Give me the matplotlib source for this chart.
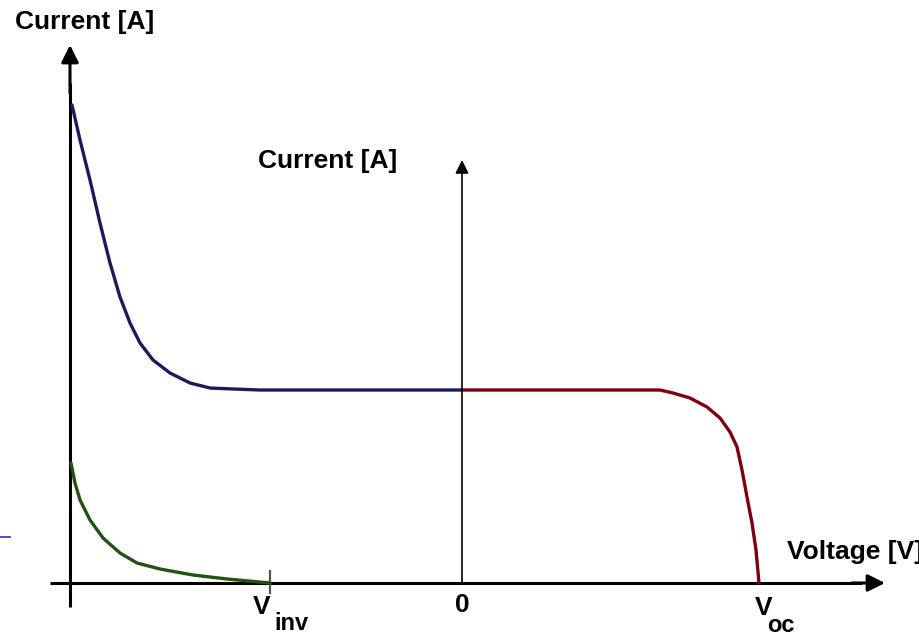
import numpy as np
import matplotlib.pyplot as plt

# curve points (voltage, current) in arbitrary units
dark_v = [-3.90, -3.82, -3.72, -3.62, -3.52, -3.42, -3.32, -3.22, -3.09, -2.92, -2.72, -2.52, -2.29, -2.02, -1.0, 0.0]
dark_i = [4.78, 4.43, 4.03, 3.60, 3.20, 2.86, 2.60, 2.40, 2.23, 2.10, 2.00, 1.95, 1.94, 1.93, 1.93, 1.93]

light_v = [0.0, 1.0, 1.98, 2.11, 2.28, 2.45, 2.58, 2.68, 2.75, 2.80, 2.85, 2.90, 2.94, 2.97]
light_i = [1.93, 1.93, 1.93, 1.90, 1.85, 1.76, 1.65, 1.51, 1.36, 1.13, 0.86, 0.60, 0.33, 0.0]

inv_v = [-3.91, -3.87, -3.82, -3.72, -3.59, -3.42, -3.25, -3.02, -2.69, -2.35, -1.92]
inv_i = [1.20, 1.00, 0.83, 0.63, 0.45, 0.30, 0.20, 0.14, 0.08, 0.04, 0.0]

v_inv = -1.92
v_oc = 2.97

plt.rcParams['font.family'] = ['Liberation Sans', 'DejaVu Sans']

fig = plt.figure(figsize=(9.2, 6.32), dpi=100)
ax = fig.add_axes([0, 0, 1, 1])
ax.set_xlim(-4.62, 4.58)
ax.set_ylim(-0.49, 5.83)
ax.axis('off')

# outer axes
ax.plot([-3.92, -3.92], [-0.24, 5.0], color='black', lw=2.2, solid_capstyle='butt')
ax.annotate('', xy=(-3.92, 5.38), xytext=(-3.92, 4.9),
            arrowprops=dict(arrowstyle='-|>', lw=2.2, color='black', mutation_scale=26,
                            shrinkA=0, shrinkB=0))
ax.plot([-4.12, 4.0], [0, 0], color='black', lw=2.2, solid_capstyle='butt')
ax.annotate('', xy=(4.23, 0), xytext=(3.9, 0),
            arrowprops=dict(arrowstyle='-|>', lw=2.2, color='black', mutation_scale=26,
                            shrinkA=0, shrinkB=0))

# inner current axis at V = 0
ax.annotate('', xy=(0, 4.23), xytext=(0, 0),
            arrowprops=dict(arrowstyle='-|>', lw=1.2, color='black', mutation_scale=20,
                            shrinkA=0, shrinkB=0))

# V_inv tick
ax.plot([v_inv, v_inv], [-0.1, 0.12], color='#555555', lw=1.6)

# curves
kw = dict(lw=2.4, solid_capstyle='round', solid_joinstyle='round')
ax.plot(dark_v, dark_i, color='#1b1b5c', **kw)
ax.plot(light_v, light_i, color='#7d0010', **kw)
ax.plot(inv_v, inv_i, color='#225214', **kw)

# small stray mark at the left edge
ax.plot([-4.62, -4.52], [0.46, 0.46], color='#3030c0', lw=1.2)

# labels
fs = 19
ax.text(-4.47, 5.61, 'Current [A]', fontsize=fs, fontweight='bold', va='center', ha='left')
ax.text(-2.04, 4.22, 'Current [A]', fontsize=fs, fontweight='bold', va='center', ha='left')
ax.text(3.25, 0.31, 'Voltage [V]', fontsize=fs, fontweight='bold', va='center', ha='left')
ax.text(0, -0.22, '0', fontsize=fs, fontweight='bold', va='center', ha='center')
ax.text(v_inv - 0.0, -0.24, 'V', fontsize=fs, fontweight='bold', va='center', ha='right')
ax.text(v_inv + 0.04, -0.40, 'inv', fontsize=fs - 2, fontweight='bold', va='center', ha='left')
ax.text(v_oc + 0.13, -0.25, 'V', fontsize=fs, fontweight='bold', va='center', ha='right')
ax.text(v_oc + 0.08, -0.42, 'oc', fontsize=fs - 2, fontweight='bold', va='center', ha='left')

fig.savefig('out.png', dpi=100)
